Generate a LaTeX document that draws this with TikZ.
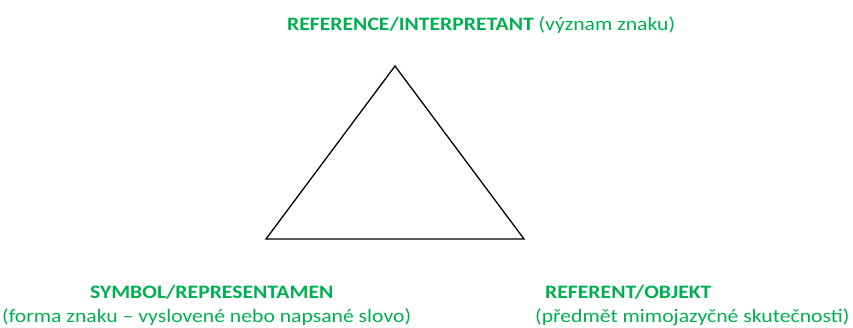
\documentclass[tikz,border=0pt]{standalone}
\usepackage{fontspec}
\setmainfont[FakeStretch=1.14]{Carlito}
\definecolor{offgreen}{HTML}{00B050}
\begin{document}
\begin{tikzpicture}[x=1pt,y=-1pt,
  lbl/.style={inner sep=0pt,anchor=base west,text=offgreen,font=\fontsize{19}{23}\selectfont},
  tri/.style={line width=1.3pt,line join=miter}]
\useasboundingbox (0,0) rectangle (853,327);
\coordinate (top) at (395,66);
\coordinate (bl) at (266,239);
\coordinate (br) at (524,239);
\draw[tri] (top) -- (bl) -- (br) -- cycle;
\node[lbl] (interp) at (287,30) {\textbf{REFERENCE/INTERPRETANT} (význam znaku)};
\node[lbl] (sym) at (90,298) {\textbf{SYMBOL/REPRESENTAMEN}};
\node[lbl] (symd) at (2,322) {(forma znaku – vyslovené nebo napsané slovo)};
\node[lbl] (ref) at (545,298) {\textbf{REFERENT/OBJEKT}};
\node[lbl] (refd) at (535,322) {(předmět mimojazyčné skutečnosti)};
\end{tikzpicture}
\end{document}
